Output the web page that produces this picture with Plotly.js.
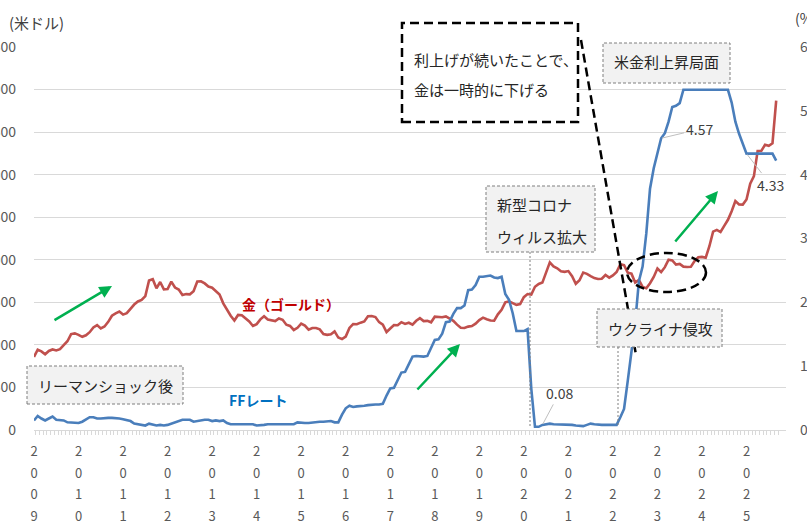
<!DOCTYPE html>
<html>
<head>
<meta charset="utf-8">
<script src="https://cdn.plot.ly/plotly-3.0.1.min.js"></script>
<style>
  html, body { margin: 0; padding: 0; background: #fff; }
  #chart { width: 807px; height: 526px; }
</style>
</head>
<body>
<div id="chart"></div>
<script>
// years on the axis, one row of monthly values per year (2009/1 - 2025/9)
const years = [2009, 2010, 2011, 2012, 2013, 2014, 2015, 2016, 2017, 2018, 2019, 2020, 2021, 2022, 2023, 2024, 2025];

// gold, US$ per oz (monthly)
const gold = [
  859, 943, 924, 890, 929, 946, 934, 949, 997, 1043, 1127, 1135,
  1118, 1095, 1113, 1149, 1205, 1233, 1193, 1216, 1271, 1342, 1370, 1391,
  1356, 1373, 1424, 1474, 1510, 1529, 1573, 1756, 1772, 1665, 1739, 1652,
  1656, 1743, 1674, 1650, 1586, 1597, 1594, 1630, 1745, 1747, 1722, 1685,
  1672, 1628, 1593, 1488, 1414, 1343, 1286, 1352, 1349, 1317, 1276, 1222,
  1244, 1300, 1336, 1299, 1289, 1279, 1311, 1295, 1237, 1223, 1175, 1201,
  1251, 1227, 1179, 1199, 1199, 1182, 1128, 1118, 1125, 1159, 1086, 1068,
  1098, 1200, 1245, 1242, 1261, 1276, 1337, 1340, 1327, 1267, 1238, 1151,
  1192, 1234, 1231, 1267, 1246, 1260, 1237, 1283, 1314, 1280, 1282, 1265,
  1331, 1331, 1325, 1335, 1304, 1282, 1238, 1202, 1198, 1215, 1221, 1250,
  1292, 1320, 1301, 1286, 1284, 1359, 1413, 1500, 1511, 1495, 1470, 1479,
  1561, 1597, 1592, 1683, 1716, 1732, 1847, 1969, 1922, 1900, 1866, 1858,
  1867, 1808, 1718, 1760, 1850, 1835, 1808, 1785, 1775, 1777, 1821, 1790,
  1817, 1856, 1948, 1937, 1849, 1837, 1733, 1764, 1681, 1665, 1725, 1798,
  1898, 1855, 1913, 2000, 1992, 1943, 1951, 1919, 1916, 1917, 1986, 2030,
  2034, 2024, 2159, 2331, 2351, 2326, 2398, 2470, 2571, 2690, 2651, 2648,
  2709, 2895, 2983, 3279, 3280, 3352, 3340, 3368, 3870
];

// FF rate, %
const ff = [
  0.15, 0.22, 0.18, 0.15, 0.18, 0.21, 0.16, 0.16, 0.15, 0.12, 0.12, 0.12,
  0.11, 0.13, 0.16, 0.20, 0.20, 0.18, 0.18, 0.19, 0.19, 0.19, 0.19, 0.18,
  0.17, 0.16, 0.14, 0.10, 0.09, 0.09, 0.07, 0.10, 0.08, 0.07, 0.08, 0.07,
  0.08, 0.10, 0.13, 0.14, 0.16, 0.16, 0.16, 0.13, 0.14, 0.16, 0.16, 0.16,
  0.14, 0.15, 0.14, 0.15, 0.11, 0.09, 0.09, 0.08, 0.08, 0.09, 0.08, 0.09,
  0.07, 0.07, 0.08, 0.09, 0.09, 0.10, 0.09, 0.09, 0.09, 0.09, 0.09, 0.12,
  0.11, 0.11, 0.11, 0.12, 0.12, 0.13, 0.13, 0.14, 0.14, 0.12, 0.12, 0.24,
  0.34, 0.38, 0.36, 0.37, 0.37, 0.38, 0.39, 0.40, 0.40, 0.40, 0.41, 0.54,
  0.65, 0.66, 0.79, 0.90, 0.91, 1.04, 1.15, 1.16, 1.15, 1.15, 1.16, 1.30,
  1.41, 1.42, 1.51, 1.69, 1.70, 1.82, 1.91, 1.91, 1.95, 2.19, 2.20, 2.27,
  2.40, 2.40, 2.41, 2.42, 2.39, 2.38, 2.40, 2.13, 2.04, 1.83, 1.55, 1.55,
  1.55, 1.58, 0.65, 0.05, 0.05, 0.08, 0.09, 0.10, 0.09, 0.09, 0.09, 0.09,
  0.09, 0.08, 0.07, 0.07, 0.06, 0.08, 0.10, 0.09, 0.08, 0.08, 0.08, 0.08,
  0.08, 0.08, 0.20, 0.33, 0.77, 1.21, 1.68, 2.33, 2.56, 3.08, 3.78, 4.10,
  4.33, 4.57, 4.65, 4.83, 5.06, 5.08, 5.12, 5.33, 5.33, 5.33, 5.33, 5.33,
  5.33, 5.33, 5.33, 5.33, 5.33, 5.33, 5.33, 5.33, 5.13, 4.83, 4.64, 4.48,
  4.33, 4.33, 4.33, 4.33, 4.33, 4.33, 4.33, 4.33, 4.22
];

// labelled FF points: [month label, value]
const ffLabels = [["2020/6", 0.08], ["2023/2", 4.57], ["2025/1", 4.33]];

// month categories
const months = [];
years.forEach(y => {
  for (let m = 1; m <= 12; m++) {
    if (months.length < gold.length) months.push(y + "/" + m);
  }
});

// year labels written top to bottom, one digit per line
const tickText = months.map(m => {
  if (!m.endsWith("/1")) return "";
  return m.split("/")[0].split("")
    .map(d => '<span style="font-size:13px">' + d + '</span>').join("<br>");
});

// pixel -> paper helpers (plot area 34..786 x 47..430)
const L = 34, R = 786, T = 47, B = 430;
const px = x => (x - L) / (R - L);
const py = y => (B - y) / (B - T);

const FONT = '"Noto Sans CJK JP", "Noto Sans", sans-serif';
const TXT = "#262626";

function box(x0, y0, x1, y1, opts) {
  return Object.assign({
    type: "rect", xref: "paper", yref: "paper",
    x0: px(x0), x1: px(x1), y0: py(y1), y1: py(y0),
    fillcolor: "#f2f2f2",
    line: { color: "#7f7f7f", width: 1, dash: "3px,2px" }
  }, opts || {});
}

function label(x, y, text, opts) {
  return Object.assign({
    xref: "paper", yref: "paper", x: px(x), y: py(y),
    text: text, showarrow: false,
    xanchor: "center", yanchor: "middle",
    font: { family: FONT, size: 15, color: TXT }
  }, opts || {});
}

function greenArrow(x0, y0, x1, y1) {
  return {
    xref: "paper", yref: "paper", x: px(x1), y: py(y1),
    ax: x0 - x1, ay: y0 - y1, text: "",
    showarrow: true, arrowhead: 2, arrowsize: 1, arrowwidth: 2.5,
    arrowcolor: "#00b050", standoff: 0
  };
}

const BLACK_DASH = { color: "#000", width: 2.5, dash: "9px,5px" };

const shapes = [
  // dashed pointer from the note box
  { type: "line", xref: "paper", yref: "paper",
    x0: px(581), y0: py(40), x1: px(636), y1: py(355), line: BLACK_DASH },
  { type: "circle", xref: "paper", yref: "paper",
    x0: px(627), x1: px(706), y0: py(292), y1: py(253), line: BLACK_DASH },
  // dotted markers for events
  { type: "line", xref: "paper", yref: "paper",
    x0: px(530), x1: px(530), y0: py(252), y1: py(427),
    line: { color: "#7f7f7f", width: 1, dash: "2px,2px" } },
  { type: "line", xref: "paper", yref: "paper",
    x0: px(618), x1: px(618), y0: py(347), y1: py(427),
    line: { color: "#7f7f7f", width: 1, dash: "2px,2px" } },
  box(27, 366, 183, 404),
  box(486, 186, 595, 252),
  box(597, 309, 722, 347),
  box(603, 43, 730, 83),
  box(402, 23, 578, 122, { fillcolor: "#fff", line: BLACK_DASH })
];

const annotations = [
  label(105, 385, "リーマンショック後"),
  label(495, 205, "新型コロナ", { xanchor: "left" }),
  label(495, 236, "ウィルス拡大", { xanchor: "left" }),
  label(660, 328, "ウクライナ侵攻"),
  label(666, 62, "米金利上昇局面"),
  label(412, 59, "利上げが続いたことで、", { xanchor: "left" }),
  label(412, 89, "金は一時的に下げる", { xanchor: "left" }),
  label(291, 304, "<b>金（ゴールド）</b>", { font: { family: FONT, size: 14, color: "#c00000" } }),
  label(258, 400, "<b>FFレート</b>", { font: { family: FONT, size: 14, color: "#0070c0" } }),
  label(36, 23, "(米ドル)", { font: { family: FONT, size: 15, color: "#404040" } }),
  label(793, 18, "(%)", { xanchor: "left", font: { family: FONT, size: 14, color: "#404040" } }),
  greenArrow(53, 321, 112, 286),
  greenArrow(416, 391, 460, 344),
  greenArrow(674, 243, 718, 191)
];

// data labels with leader lines
const offsets = [[17, -32], [38, -9], [24, 31]];
ffLabels.forEach((d, i) => {
  annotations.push({
    xref: "x", yref: "y2", x: months.indexOf(d[0]), y: d[1],
    text: d[1].toFixed(2), showarrow: true, arrowhead: 0,
    arrowwidth: 1, arrowcolor: "#bfbfbf",
    ax: offsets[i][0], ay: offsets[i][1], standoff: 1,
    font: { family: FONT, size: 14, color: "#404040" }
  });
});

const traces = [
  {
    x: months, y: gold, name: "金（ゴールド）", type: "scatter", mode: "lines",
    line: { color: "#c0504d", width: 2.6 }, yaxis: "y"
  },
  {
    x: months, y: ff, name: "FFレート", type: "scatter", mode: "lines",
    line: { color: "#4a7ebb", width: 2.6 }, yaxis: "y2"
  }
];

const layout = {
  width: 807, height: 526,
  margin: { l: L, r: 807 - R, t: T, b: 526 - B },
  paper_bgcolor: "#fff", plot_bgcolor: "#fff",
  showlegend: false,
  font: { family: FONT, color: "#595959" },
  xaxis: {
    type: "category",
    tickvals: months, ticktext: tickText, tickangle: 0,
    tickson: "boundaries", ticks: "outside", ticklen: 4, tickcolor: "#d9d9d9",
    showline: true, linecolor: "#d9d9d9", linewidth: 1,
    showgrid: false, zeroline: false,
    tickfont: { family: FONT, size: 16.7, color: "#595959" },
    ticklabelstandoff: 5
  },
  yaxis: {
    range: [0, 4500], dtick: 500, tickformat: ",d",
    showgrid: true, gridcolor: "#d9d9d9", gridwidth: 1,
    zeroline: false, showline: false, ticks: "",
    tickfont: { family: FONT, size: 14, color: "#595959" },
    ticklabelstandoff: 17
  },
  yaxis2: {
    range: [0, 6], dtick: 1, overlaying: "y", side: "right",
    showgrid: false, zeroline: false, showline: false, ticks: "",
    tickfont: { family: FONT, size: 14, color: "#595959" },
    ticklabelstandoff: 13
  },
  shapes: shapes,
  annotations: annotations
};

Plotly.newPlot("chart", traces, layout, { displayModeBar: false, staticPlot: true });
</script>
</body>
</html>
